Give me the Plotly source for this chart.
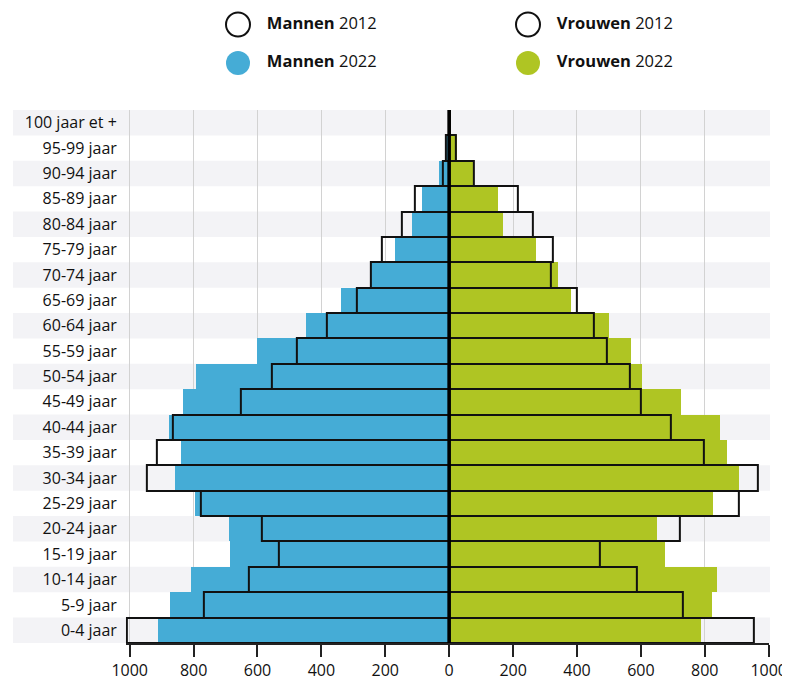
import plotly.graph_objects as go

ages = ["0-4 jaar", "5-9 jaar", "10-14 jaar", "15-19 jaar", "20-24 jaar", "25-29 jaar",
        "30-34 jaar", "35-39 jaar", "40-44 jaar", "45-49 jaar", "50-54 jaar", "55-59 jaar",
        "60-64 jaar", "65-69 jaar", "70-74 jaar", "75-79 jaar", "80-84 jaar", "85-89 jaar",
        "90-94 jaar", "95-99 jaar", "100 jaar et +"]

men_2022 = [911, 874, 808, 688, 691, 795, 858, 839, 877, 833, 794, 601, 450, 340, 247, 170, 117, 87, 33, 9, 2]
men_2012 = [1009, 767, 628, 532, 585, 778, 945, 915, 866, 653, 556, 478, 382, 290, 246, 212, 148, 108, 19, 9, 1]
women_2022 = [788, 822, 838, 676, 649, 825, 907, 868, 848, 726, 604, 570, 500, 382, 339, 270, 168, 151, 76, 25, 5]
women_2012 = [952, 731, 586, 473, 722, 908, 967, 797, 694, 600, 566, 492, 453, 398, 318, 323, 262, 216, 78, 21, 3]

tick_vals = [-1000, -800, -600, -400, -200, 0, 200, 400, 600, 800, 1000]
tick_text = ["1000", "800", "600", "400", "200", "0", "200", "400", "600", "800", "1000"]

legend_sex = ["Mannen", "Vrouwen"]
legend_year = ["2012", "2022"]

BLUE = "#45acd6"
GREEN = "#afc523"
SHADE = "#f3f3f6"
FONT = "Open Sans"

# The page body adds an 8px offset, so the figure is 8px smaller and everything is placed 8px up-left.
W, H = 782, 674
PX0 = 121.7          # pixel of x=-1000
PX1 = 760.7          # pixel of x=+1000
PXL = PX0 - 12 * (PX1 - PX0) / 2000   # left edge of range (-1012)
PLOT_TOP, PLOT_BOT = 102, 635

fig = go.Figure()

fig.add_trace(go.Bar(y=ages, x=[-v for v in men_2022], orientation="h",
                     marker=dict(color=BLUE, line=dict(width=0)), name="Mannen 2022",
                     showlegend=False, hoverinfo="skip"))
fig.add_trace(go.Bar(y=ages, x=women_2022, orientation="h",
                     marker=dict(color=GREEN, line=dict(width=0)), name="Vrouwen 2022",
                     showlegend=False, hoverinfo="skip"))
fig.add_trace(go.Bar(y=ages, x=[-v for v in men_2012], orientation="h",
                     marker=dict(color="rgba(0,0,0,0)", line=dict(color="#111", width=2)),
                     name="Mannen 2012", showlegend=False, hoverinfo="skip"))
fig.add_trace(go.Bar(y=ages, x=women_2012, orientation="h",
                     marker=dict(color="rgba(0,0,0,0)", line=dict(color="#111", width=2)),
                     name="Vrouwen 2012", showlegend=False, hoverinfo="skip"))

# legend drawn as markers on an auxiliary axis
fill_colors = {("Mannen", "2012"): "white", ("Vrouwen", "2012"): "white",
               ("Mannen", "2022"): BLUE, ("Vrouwen", "2022"): GREEN}
for sex in legend_sex:
    for yr in legend_year:
        is_open = yr == "2012"
        fig.add_trace(go.Scatter(
            x=[sex], y=[yr], xaxis="x2", yaxis="y2", mode="markers+text",
            marker=dict(size=24, color=fill_colors[(sex, yr)],
                        line=dict(color="#111" if is_open else fill_colors[(sex, yr)],
                                  width=2 if is_open else 0)),
            text=["&nbsp;&nbsp;&nbsp;<b>" + sex + "</b> " + yr],
            textposition="middle right",
            textfont=dict(family=FONT, size=16.5, color="#111"),
            cliponaxis=False, showlegend=False, hoverinfo="skip"))

shapes = []
for i, a in enumerate(ages):
    if i % 2 == 0:
        shapes.append(dict(type="rect", xref="paper", yref="y", x0=5 / W, x1=762 / W,
                           y0=i - 0.5, y1=i + 0.5, fillcolor=SHADE, line=dict(width=0),
                           layer="below"))
shapes.append(dict(type="line", xref="x", yref="y", x0=0, x1=0, y0=-0.5, y1=len(ages) - 0.5,
                   line=dict(color="#000", width=3.5), layer="above"))

paper_h = PLOT_BOT
leg_top_px = 72
row1_px, row2_px = 16.5, 55
fig.update_layout(
    width=W, height=H,
    margin=dict(l=0, r=0, t=0, b=H - PLOT_BOT),
    paper_bgcolor="white", plot_bgcolor="rgba(0,0,0,0)",
    barmode="overlay", bargap=0,
    showlegend=False,
    shapes=shapes,
    font=dict(family=FONT, size=16, color="#111"),
    xaxis=dict(domain=[PXL / W, PX1 / W], range=[-1012, 1000],
               tickvals=tick_vals, ticktext=tick_text,
               showgrid=True, gridcolor="#d2d2d2", gridwidth=1, zeroline=False,
               showline=True, linecolor="#222", linewidth=1.5,
               ticks="outside", ticklen=12, tickcolor="#222", tickwidth=1.5,
               tickfont=dict(family=FONT, size=16, color="#111"),
               fixedrange=True, automargin=False, layer="above traces"),
    yaxis=dict(domain=[0, (paper_h - PLOT_TOP) / paper_h], range=[-0.5, len(ages) - 0.5],
               categoryorder="array", categoryarray=ages,
               showgrid=False, zeroline=False, showline=False, ticks="",
               ticklabelstandoff=8,
               tickfont=dict(family=FONT, size=16, color="#111"),
               fixedrange=True, automargin=False),
    xaxis2=dict(domain=[0, 1], anchor="y2", range=[-230 / 290, -230 / 290 + W / 290],
                categoryorder="array", categoryarray=legend_sex,
                visible=False, fixedrange=True),
    yaxis2=dict(domain=[(paper_h - leg_top_px) / paper_h, 1], anchor="x2",
                range=[1 + (leg_top_px - row2_px) / (row2_px - row1_px),
                       -row1_px / (row2_px - row1_px)],
                categoryorder="array", categoryarray=legend_year,
                visible=False, fixedrange=True),
)

fig.write_html("out.html")
